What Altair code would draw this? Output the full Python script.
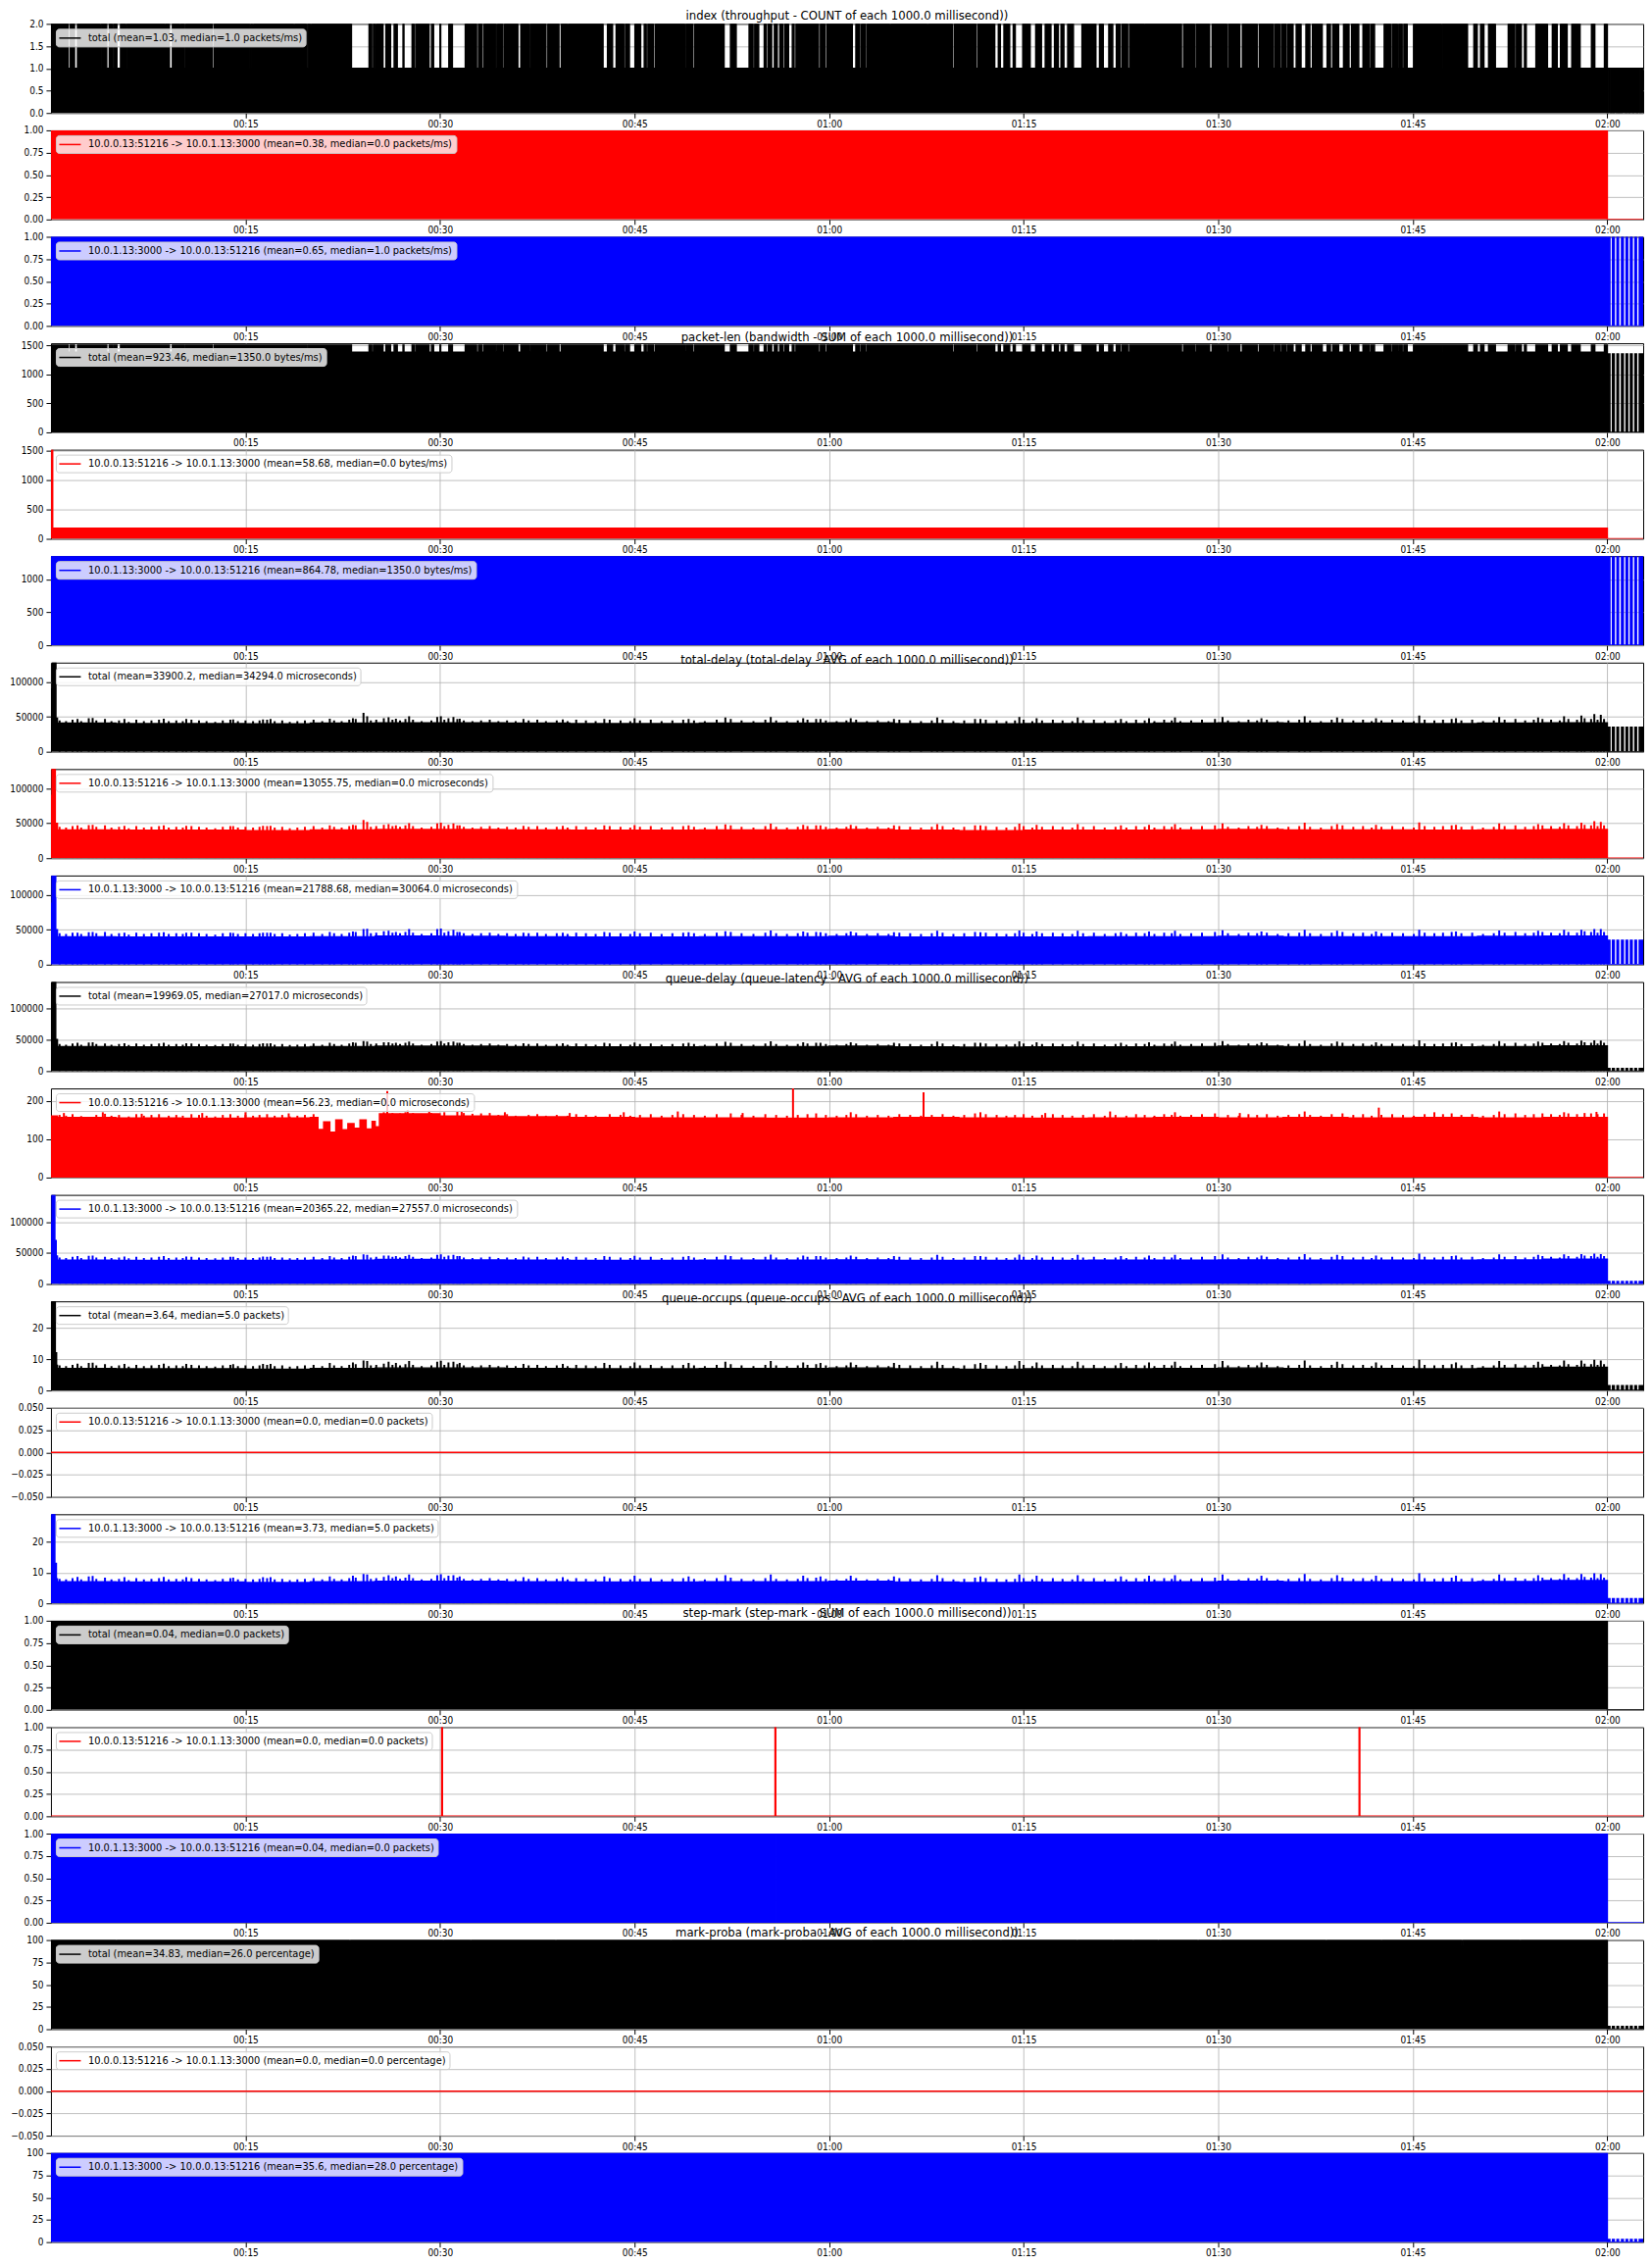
import altair as alt
import pandas as pd

FONT = "DejaVu Sans Condensed, Liberation Sans Narrow, DejaVu Sans"
BLACK, RED, BLUE = "#000000", "#ff0000", "#0000ff"
X_END = 7366
DATA_END = 7200
W, H = 1626, 91

TICKS = [900, 1800, 2700, 3600, 4500, 5400, 6300, 7200]
TICK_LABELS = ["00:15", "00:30", "00:45", "01:00", "01:15", "01:30", "01:45", "02:00"]

TITLES = [
    "index (throughput - COUNT of each 1000.0 millisecond))",
    "packet-len (bandwidth - SUM of each 1000.0 millisecond))",
    "total-delay (total-delay - AVG of each 1000.0 millisecond))",
    "queue-delay (queue-latency - AVG of each 1000.0 millisecond))",
    "queue-occups (queue-occups - AVG of each 1000.0 millisecond))",
    "step-mark (step-mark - SUM of each 1000.0 millisecond))",
    "mark-proba (mark-proba - AVG of each 1000.0 millisecond))",
]
F1 = "10.0.0.13:51216 -> 10.0.1.13:3000"
F2 = "10.0.1.13:3000 -> 10.0.0.13:51216"
LABELS = [
    "total (mean=1.03, median=1.0 packets/ms)",
    F1 + " (mean=0.38, median=0.0 packets/ms)",
    F2 + " (mean=0.65, median=1.0 packets/ms)",
    "total (mean=923.46, median=1350.0 bytes/ms)",
    F1 + " (mean=58.68, median=0.0 bytes/ms)",
    F2 + " (mean=864.78, median=1350.0 bytes/ms)",
    "total (mean=33900.2, median=34294.0 microseconds)",
    F1 + " (mean=13055.75, median=0.0 microseconds)",
    F2 + " (mean=21788.68, median=30064.0 microseconds)",
    "total (mean=19969.05, median=27017.0 microseconds)",
    F1 + " (mean=56.23, median=0.0 microseconds)",
    F2 + " (mean=20365.22, median=27557.0 microseconds)",
    "total (mean=3.64, median=5.0 packets)",
    F1 + " (mean=0.0, median=0.0 packets)",
    F2 + " (mean=3.73, median=5.0 packets)",
    "total (mean=0.04, median=0.0 packets)",
    F1 + " (mean=0.0, median=0.0 packets)",
    F2 + " (mean=0.04, median=0.0 packets)",
    "total (mean=34.83, median=26.0 percentage)",
    F1 + " (mean=0.0, median=0.0 percentage)",
    F2 + " (mean=35.6, median=28.0 percentage)",
]

# seconds where the total throughput drops from 2 to 1 packet/ms
TOTAL_GAPS = [(80, 90), (109, 123), (227, 232), (258, 270), (284, 291), (305, 322), (345, 350), (527, 530),
              (548, 562), (596, 600), (617, 624), (747, 756), (920, 926), (933, 938), (1123, 1128), (1182, 1189),
              (1201, 1206), (1390, 1472), (1484, 1492), (1501, 1506), (1536, 1550), (1571, 1588), (1602, 1629),
              (1633, 1671), (1680, 1688), (1749, 1761), (1770, 1800), (1803, 1841), (1857, 1917), (1969, 1978),
              (1995, 2004), (2059, 2066), (2091, 2099), (2160, 2174), (2212, 2219), (2290, 2299), (2350, 2361),
              (2389, 2394), (2554, 2575), (2598, 2615), (2650, 2658), (2676, 2702), (2728, 2745), (2754, 2762),
              (2788, 2797), (2932, 2939), (2970, 2979), (3114, 3144), (3170, 3230), (3248, 3256), (3274, 3300),
              (3308, 3317), (3334, 3347), (3360, 3372), (3386, 3395), (3412, 3430), (3438, 3447), (3551, 3560),
              (3580, 3589), (3707, 3724), (3742, 3750), (3768, 3776), (3880, 3886), (4054, 4059), (4170, 4179),
              (4279, 4288), (4366, 4383), (4392, 4409), (4435, 4452), (4461, 4496), (4530, 4556), (4582, 4600),
              (4626, 4643), (4660, 4673), (4686, 4704), (4730, 4770), (4834, 4851), (4868, 4894), (4912, 4929),
              (4946, 4955), (4981, 4990), (5059, 5062), (5230, 5240), (5290, 5298), (5360, 5372), (5440, 5448),
              (5500, 5512), (5580, 5590), (5655, 5663), (5685, 5693), (5715, 5723), (5746, 5761), (5783, 5806),
              (5824, 5836), (5881, 5904), (5919, 5930), (5957, 5980), (6005, 6017), (6050, 6070), (6100, 6108),
              (6123, 6168), (6198, 6206), (6229, 6236), (6251, 6259), (6274, 6304), (6432, 6437), (6553, 6583),
              (6598, 6614), (6629, 6651), (6682, 6742), (6772, 6780), (6802, 6817), (6825, 6870), (6923, 6946),
              (6968, 6984), (7014, 7036), (7074, 7127), (7142, 7187)]
# intervals after 02:00 with activity
POST_ON = [(7204, 7212), (7224, 7232), (7245, 7252), (7266, 7274), (7287, 7294), (7307, 7315),
           (7328, 7335), (7348, 7356), (7359, 7366)]
POST_DENSE = [(7203, 7216), (7219, 7227), (7231, 7244), (7248, 7255), (7259, 7264), (7268, 7285),
              (7289, 7300), (7304, 7318), (7322, 7336), (7340, 7352), (7356, 7366)]
STEP_MARK_RED_T = [1808, 3350, 6052]
MP_NOTCH_T = [300, 1380, 1813, 1940, 2333, 2866, 3467, 3791, 3941, 4010, 4253, 4392, 4745, 4912, 5004,
              5120, 5304, 5408, 5897, 6153, 6526, 6795]
MP_NOTCH_V = [97, 98, 98, 96, 97, 98, 97, 97, 98, 97, 97, 90, 97, 98, 97, 98, 97, 97, 97, 98, 94, 97]

# 5-minute baselines for the noisy series
TD_TOTAL_BASE = [41000, 40500, 40500, 40000, 41000, 41500, 41500, 41000, 40500, 40500, 41000, 41000,
                 41500, 40500, 40000, 40500, 40500, 41000, 41500, 41000, 41000, 40500, 41000, 41500]
TD_RED_BASE = [40500, 40000, 40000, 39500, 40500, 41000, 41000, 40500, 40000, 40000, 40500, 40500,
               41000, 40000, 39500, 40000, 40000, 40500, 41000, 40500, 40500, 40000, 40500, 41000]
TD_BLUE_BASE = [40000, 39500, 39500, 39500, 40000, 41000, 40500, 40000, 39500, 39500, 40000, 40000,
                40500, 39500, 39500, 39500, 40000, 40000, 40500, 40000, 40000, 40000, 40500, 41000]
QD_TOTAL_BASE = [39000, 38500, 38500, 38000, 39000, 39500, 39500, 39000, 38500, 38500, 39000, 39000,
                 39500, 38500, 38000, 38500, 38500, 39000, 39500, 39000, 39000, 38500, 39000, 40000]
QD_BLUE_BASE = [38500, 38000, 38000, 38000, 38500, 39500, 39000, 38500, 38000, 38000, 38500, 38500,
                39000, 38000, 38000, 38000, 38500, 38500, 39000, 38500, 38500, 38500, 39000, 40000]
QD_RED_BASE = [156, 155, 154, 155, 156, 132, 160, 158, 156, 155, 155, 154,
               155, 156, 155, 154, 155, 156, 155, 156, 155, 156, 155, 156]
QO_TOTAL_BASE = [7.0, 6.9, 6.9, 6.8, 7.0, 7.2, 7.2, 7.0, 6.9, 6.9, 7.0, 7.0,
                 7.2, 6.9, 6.8, 6.9, 6.9, 7.0, 7.2, 7.0, 7.0, 6.9, 7.1, 7.4]
QO_BLUE_BASE = [7.0, 6.9, 6.9, 6.8, 7.0, 7.2, 7.2, 7.0, 6.9, 6.9, 7.0, 7.0,
                7.2, 6.9, 6.8, 6.9, 6.9, 7.0, 7.2, 7.0, 7.0, 6.9, 7.1, 7.4]

# larger spikes (seconds, value)
SPIKE_T = [123, 175, 193, 340, 522, 626, 843, 981, 1016, 1290, 1397, 1446, 1463, 1562, 1596, 1657, 1787,
           1804, 1839, 1862, 1891, 2186, 2368, 2560, 2700, 2950, 3120, 3330, 3480, 3560, 3700, 3900, 4100,
           4300, 4480, 4560, 4750, 4950, 5080, 5200, 5420, 5600, 5800, 5950, 6130, 6330, 6500, 6700, 6880,
           7000, 7080, 7140, 7170]
TD_TOTAL_SPIKE = [47000, 48000, 48500, 47000, 47500, 47000, 46500, 46500, 47000, 47500, 48000, 56000, 51000,
                  49500, 47500, 51000, 50000, 51000, 48000, 50000, 47500, 47000, 46500, 47000, 48000, 47000,
                  49000, 50000, 48000, 47000, 48000, 47000, 49000, 47000, 50000, 48000, 49000, 47000, 48000,
                  49000, 50000, 48000, 51000, 49000, 48000, 52000, 48000, 50000, 49000, 51000, 52000, 54000, 53000]
TD_RED_SPIKE = [47000, 47500, 48000, 46500, 47000, 46500, 46000, 46500, 46500, 47000, 48000, 55000, 52000,
                49000, 47000, 50500, 50000, 51000, 48000, 50000, 47000, 46500, 46500, 47000, 47500, 47000,
                48500, 49500, 48000, 47000, 48000, 47000, 49000, 47000, 49500, 48000, 49000, 47000, 48000,
                49000, 50000, 48000, 51000, 49000, 48000, 51500, 48000, 50000, 49000, 50500, 51000, 53000, 52000]
TD_BLUE_SPIKE = [46000, 46500, 47000, 46000, 46500, 46000, 45500, 46000, 46000, 47000, 47500, 51000, 51500,
                 48500, 47000, 51000, 51000, 52000, 48000, 50000, 47000, 46000, 46000, 47000, 47500, 46500,
                 48000, 49000, 47500, 46500, 47500, 46500, 48500, 46500, 49000, 47500, 48500, 46500, 47500,
                 48500, 49500, 47500, 50000, 48500, 47500, 50000, 47500, 49000, 48500, 50000, 50000, 51000, 51000]
QD_SPIKE = [45000, 45500, 46000, 44500, 45000, 44500, 44000, 44500, 44500, 45000, 46000, 48000, 47000,
            46000, 45000, 47000, 47000, 48000, 46000, 47000, 45000, 44500, 44500, 45000, 45500, 45000,
            46500, 47500, 46000, 45000, 46000, 45000, 47000, 45000, 47500, 46000, 47000, 45000, 46000,
            47000, 48000, 46000, 48500, 47000, 46000, 49000, 46000, 48000, 47000, 48000, 48500, 49000, 48500]
QO_SPIKE = [8.6, 8.8, 8.9, 8.5, 8.6, 8.5, 8.4, 8.5, 8.5, 8.8, 9.0, 9.6, 9.4, 9.2, 8.8, 9.4, 9.2, 9.5,
            9.0, 9.2, 8.8, 8.5, 8.5, 8.8, 9.0, 8.8, 9.2, 9.4, 9.0, 8.8, 9.0, 8.8, 9.2, 8.8, 9.4, 9.0,
            9.2, 8.8, 9.0, 9.2, 9.4, 9.0, 9.6, 9.2, 9.0, 9.8, 9.0, 9.4, 9.2, 9.6, 9.6, 9.8, 9.6]

# small serrations along the top edge (seconds, value)
MINOR_T = [40, 70, 100, 140, 210, 250, 280, 315, 360, 395, 430, 465, 500, 545, 580, 610, 650, 685, 720, 760,
           795, 830, 865, 900, 935, 965, 1000, 1035, 1070, 1105, 1140, 1175, 1215, 1255, 1310, 1345, 1380, 1410,
           1480, 1505, 1540, 1580, 1615, 1640, 1675, 1715, 1760, 1820, 1880, 1910, 1950, 1990, 2030, 2070, 2110,
           2150, 2210, 2250, 2290, 2340, 2390, 2430, 2475, 2520, 2585, 2635, 2680, 2725, 2775, 2825, 2875, 2925,
           2975, 3025, 3080, 3145, 3195, 3250, 3305, 3355, 3405, 3455, 3500, 3540, 3585, 3635, 3680, 3725, 3775,
           3825, 3875, 3925, 3975, 4025, 4075, 4125, 4175, 4225, 4275, 4325, 4375, 4420, 4460, 4500, 4540, 4585,
           4635, 4680, 4725, 4775, 4825, 4875, 4925, 4975, 5020, 5060, 5105, 5150, 5185, 5225, 5275, 5325, 5385,
           5445, 5495, 5540, 5580, 5625, 5675, 5725, 5775, 5825, 5875, 5925, 5975, 6025, 6070, 6110, 6155, 6205,
           6255, 6305, 6355, 6400, 6440, 6480, 6525, 6575, 6625, 6675, 6725, 6775, 6820, 6860, 6900, 6940, 6980,
           7020, 7060, 7095, 7125, 7155, 7185]
TD_MINOR = [45000, 44000, 46000, 44000, 45000, 47000, 44000, 45000, 43000, 46000, 44000, 45000, 46000, 44000,
            45000, 44000, 46000, 45000, 44000, 43000, 45000, 46000, 44000, 45000, 44000, 45000, 46000, 44000,
            45000, 43000, 44000, 45000, 46000, 44000, 45000, 44000, 46000, 47000, 45000, 46000, 48000, 46000,
            45000, 47000, 46000, 44000, 45000, 46000, 47000, 45000, 44000, 45000, 46000, 44000, 45000, 44000,
            45000, 46000, 44000, 45000, 44000, 46000, 45000, 44000, 46000, 45000, 44000, 45000, 46000, 44000,
            45000, 46000, 45000, 44000, 46000, 47000, 45000, 44000, 46000, 45000, 44000, 45000, 46000, 47000,
            45000, 44000, 45000, 46000, 44000, 45000, 44000, 46000, 45000, 44000, 45000, 46000, 44000, 45000,
            47000, 46000, 45000, 44000, 45000, 46000, 44000, 45000, 46000, 45000, 44000, 45000, 46000, 44000,
            45000, 44000, 46000, 45000, 44000, 46000, 45000, 44000, 45000, 46000, 47000, 45000, 44000, 46000,
            45000, 46000, 44000, 45000, 46000, 45000, 44000, 46000, 47000, 45000, 46000, 44000, 45000, 46000,
            45000, 44000, 46000, 45000, 46000, 47000, 45000, 46000, 44000, 45000, 46000, 47000, 45000, 46000,
            47000, 46000, 45000, 47000, 46000, 48000, 47000, 46000, 47000, 48000, 47000, 48000, 47000]
QD_MINOR = [43000, 42000, 44000, 42000, 43000, 44000, 42000, 43000, 41500, 44000, 42000, 43000, 44000, 42000,
            43000, 42000, 44000, 43000, 42000, 41500, 43000, 44000, 42000, 43000, 42000, 43000, 44000, 42000,
            43000, 41500, 42000, 43000, 44000, 42000, 43000, 42000, 44000, 45000, 43000, 44000, 46000, 44000,
            43000, 45000, 44000, 42000, 43000, 44000, 45000, 43000, 42000, 43000, 44000, 42000, 43000, 42000,
            43000, 44000, 42000, 43000, 42000, 44000, 43000, 42000, 44000, 43000, 42000, 43000, 44000, 42000,
            43000, 44000, 43000, 42000, 44000, 45000, 43000, 42000, 44000, 43000, 42000, 43000, 44000, 45000,
            43000, 42000, 43000, 44000, 42000, 43000, 42000, 44000, 43000, 42000, 43000, 44000, 42000, 43000,
            45000, 44000, 43000, 42000, 43000, 44000, 42000, 43000, 44000, 43000, 42000, 43000, 44000, 42000,
            43000, 42000, 44000, 43000, 42000, 44000, 43000, 42000, 43000, 44000, 45000, 43000, 42000, 44000,
            43000, 44000, 42000, 43000, 44000, 43000, 42000, 44000, 45000, 43000, 44000, 42000, 43000, 44000,
            43000, 42000, 44000, 43000, 44000, 45000, 43000, 44000, 42000, 43000, 44000, 45000, 43000, 44000,
            45000, 44000, 43000, 45000, 44000, 46000, 45000, 44000, 45000, 46000, 45000, 46000, 45000]
QO_MINOR = [8.0, 7.8, 8.2, 7.8, 8.0, 8.4, 7.8, 8.0, 7.6, 8.2, 7.8, 8.0, 8.2, 7.8, 8.0, 7.8, 8.2, 8.0, 7.8,
            7.6, 8.0, 8.2, 7.8, 8.0, 7.8, 8.0, 8.2, 7.8, 8.0, 7.6, 7.8, 8.0, 8.2, 7.8, 8.0, 7.8, 8.2, 8.4,
            8.0, 8.2, 8.6, 8.2, 8.0, 8.4, 8.2, 7.8, 8.0, 8.2, 8.4, 8.0, 7.8, 8.0, 8.2, 7.8, 8.0, 7.8, 8.0,
            8.2, 7.8, 8.0, 7.8, 8.2, 8.0, 7.8, 8.2, 8.0, 7.8, 8.0, 8.2, 7.8, 8.0, 8.2, 8.0, 7.8, 8.2, 8.4,
            8.0, 7.8, 8.2, 8.0, 7.8, 8.0, 8.2, 8.4, 8.0, 7.8, 8.0, 8.2, 7.8, 8.0, 7.8, 8.2, 8.0, 7.8, 8.0,
            8.2, 7.8, 8.0, 8.4, 8.2, 8.0, 7.8, 8.0, 8.2, 7.8, 8.0, 8.2, 8.0, 7.8, 8.0, 8.2, 7.8, 8.0, 7.8,
            8.2, 8.0, 7.8, 8.2, 8.0, 7.8, 8.0, 8.2, 8.4, 8.0, 7.8, 8.2, 8.0, 8.2, 7.8, 8.0, 8.2, 8.0, 7.8,
            8.2, 8.4, 8.0, 8.2, 7.8, 8.0, 8.2, 8.0, 7.8, 8.2, 8.0, 8.2, 8.4, 8.0, 8.2, 7.8, 8.0, 8.2, 8.4,
            8.0, 8.2, 8.4, 8.2, 8.0, 8.4, 8.2, 8.6, 8.4, 8.2, 8.4, 8.6, 8.4, 8.6, 8.4]
QD_RED_SPIKE_T = [60, 240, 420, 700, 900, 1100, 1556, 1650, 1750, 1900, 2100, 2400, 2650, 2900, 3200, 3433,
                  3700, 4037, 4300, 4600, 4900, 5200, 5500, 5800, 6143, 6400, 6700, 7000, 7150]
QD_RED_SPIKE_V = [168, 170, 166, 168, 170, 167, 225, 176, 174, 172, 170, 168, 170, 172, 168, 232,
                  170, 222, 170, 168, 172, 170, 168, 172, 182, 170, 172, 170, 171]
QD_RED_MINOR = [163, 161, 165, 160, 163, 166, 161, 163, 159, 165, 161, 163, 165, 161, 163, 161, 165, 163, 161,
                159, 163, 165, 161, 163, 161, 163, 165, 161, 163, 159, 161, 163, 165, 161, 163, 161, 165, 167,
                163, 165, 170, 168, 167, 170, 168, 166, 168, 170, 172, 168, 166, 167, 168, 163, 165, 161, 163,
                165, 161, 163, 161, 165, 163, 161, 165, 163, 161, 163, 165, 161, 163, 165, 163, 161, 165, 167,
                163, 161, 165, 163, 161, 163, 165, 167, 163, 161, 163, 165, 161, 163, 161, 165, 163, 161, 163,
                165, 161, 163, 167, 165, 163, 161, 163, 165, 161, 163, 165, 163, 161, 163, 165, 161, 163, 161,
                165, 163, 161, 165, 163, 161, 163, 165, 167, 163, 161, 165, 163, 165, 161, 163, 165, 163, 161,
                165, 167, 163, 165, 161, 163, 165, 163, 161, 165, 163, 165, 167, 163, 165, 161, 163, 165, 167,
                163, 165, 167, 165, 163, 167, 165, 168, 167, 165, 167, 168, 167, 168, 167]
QD_RED_DIP = [(1235, 125), (1262, 145), (1290, 118), (1318, 150), (1346, 124), (1374, 140), (1402, 128),
              (1430, 150), (1458, 126), (1486, 146), (1520, 166)]

# initial transients (seconds, value)
TD_TOTAL_HEAD = [(0, 90000), (8, 128000), (23, 48000)]
TD_RED_HEAD = [(0, 90000), (5, 128000), (20, 50000)]
TD_BLUE_HEAD = [(0, 88000), (5, 128000), (22, 50000)]
QD_TOTAL_HEAD = [(0, 100000), (5, 142000), (22, 50000)]
QD_BLUE_HEAD = [(0, 100000), (5, 144000), (18, 70000), (24, 45000)]
QD_RED_HEAD = [(0, 160)]
QO_TOTAL_HEAD = [(0, 20), (4, 28.5), (20, 12), (26, 8)]
QO_BLUE_HEAD = [(0, 22), (4, 29), (18, 13), (25, 8)]
PL_RED_HEAD = [(0, 1522), (8, 180)]


def tail(post, on=POST_ON):
    pts = [(DATA_END, 0.0)]
    if post:
        for a, b in on:
            pts += [(a, post), (b, 0.0)]
    pts.append((X_END, 0.0))
    return pts


def binary(hi, lo, gaps, post=0.0, on=POST_ON):
    pts = [(0, hi)]
    for a, b in gaps:
        pts += [(a, lo), (b, hi)]
    return pts + tail(post, on)


def noisy(head, base, post=0.0, extra=None):
    pts = list(head)
    pts.append((30, base[0]))
    pts += [(300 * i, v) for i, v in enumerate(base) if i > 0]
    if extra:
        pts = sorted(pts + list(extra), key=lambda p: p[0])
    return pts + tail(post)


def spikes(*pairs):
    out = []
    for ts, vs in pairs:
        out += list(zip(ts, vs))
    return out


LABEL_EXPR = "[" + ",".join("'%s'" % s for s in TICK_LABELS) + "][round(datum.value / 900) - 1]"


def x_enc():
    return alt.X("t:Q", scale=alt.Scale(domain=[0, X_END], nice=False, zero=False),
                 axis=alt.Axis(values=TICKS, labelExpr=LABEL_EXPR, title=None, grid=True,
                               labelPadding=1, labelFlush=False))


def y_enc(dom, ticks, fmt):
    return alt.Y("v:Q", scale=alt.Scale(domain=dom, nice=False, zero=False),
                 axis=alt.Axis(values=ticks, format=fmt, title=None, grid=True, labelPadding=3))


def panel(pts, color, label, dom, ticks, fmt, title=None, spk=None, fill=True):
    df = pd.DataFrame(pts, columns=["t", "v"])
    df["s"] = label
    base = alt.Chart(df)
    x, y = x_enc(), y_enc(dom, ticks, fmt)
    legend = alt.Legend(orient="top-left", offset=5, title=None, fillColor="rgba(255,255,255,0.8)",
                        strokeColor="#cccccc", cornerRadius=3, padding=3, labelFont=FONT,
                        labelFontSize=11, labelColor="black", labelLimit=0,
                        symbolType="M-2,0H2", symbolSize=121, symbolStrokeWidth=1.5,
                        symbolOffset=5, labelOffset=12, symbolStrokeColor=color)
    col = alt.Color("s:N", scale=alt.Scale(domain=[label], range=[color]), legend=legend)
    layers = []
    if fill:
        layers.append(base.mark_area(interpolate="step-after", clip=True, color=color).encode(x=x, y=y))
    if spk:
        sdf = pd.DataFrame(spk, columns=["t", "v"])
        layers.append(alt.Chart(sdf).mark_rule(color=color, strokeWidth=2, clip=True).encode(
            x=x, y=y, y2=alt.datum(0)))
    layers.append(base.mark_line(interpolate="step-after", clip=True, strokeWidth=1.5).encode(
        x=x, y=y, color=col))
    ch = alt.layer(*layers).properties(width=W, height=H)
    if title:
        ch = ch.properties(title=alt.TitleParams(title, font=FONT, fontSize=13, fontWeight="normal",
                                                 color="black", offset=-4, anchor="middle", frame="group"))
    return ch


P_IDX = dict(dom=[0, 2], ticks=[0, 0.5, 1, 1.5, 2], fmt=".1f")
P_UNIT = dict(dom=[0, 1], ticks=[0, 0.25, 0.5, 0.75, 1], fmt=".2f")
P_ZERO = dict(dom=[-0.05, 0.05], ticks=[-0.05, -0.025, 0, 0.025, 0.05], fmt=".3f")
P_PCT = dict(dom=[0, 100], ticks=[0, 25, 50, 75, 100], fmt="d")
P_TD = dict(dom=[0, 128000], ticks=[0, 50000, 100000], fmt="d")

notch_pts = [(0, 100)]
for t, v in zip(MP_NOTCH_T, MP_NOTCH_V):
    notch_pts += [(t, v), (t + 6, 100)]

qd_red_minor = [(t, v) for t, v in zip(MINOR_T, QD_RED_MINOR) if not 1230 < t < 1525]

panels = [
    panel(binary(2, 1, TOTAL_GAPS, post=1, on=POST_DENSE), BLACK, LABELS[0], title=TITLES[0], **P_IDX),
    panel(binary(1, 1, []), RED, LABELS[1], **P_UNIT),
    panel(binary(1, 1, [], post=1), BLUE, LABELS[2], **P_UNIT),
    panel(binary(1500, 1380, TOTAL_GAPS, post=1350), BLACK, LABELS[3], dom=[0, 1534],
          ticks=[0, 500, 1000, 1500], fmt="d", title=TITLES[1]),
    panel(PL_RED_HEAD + tail(0), RED, LABELS[4], dom=[0, 1522], ticks=[0, 500, 1000, 1500], fmt="d"),
    panel(binary(1350, 1350, [], post=1350), BLUE, LABELS[5], dom=[0, 1350], ticks=[0, 500, 1000], fmt="d"),
    panel(noisy(TD_TOTAL_HEAD, TD_TOTAL_BASE, post=35000), BLACK, LABELS[6], title=TITLES[2],
          spk=spikes((MINOR_T, TD_MINOR), (SPIKE_T, TD_TOTAL_SPIKE)), **P_TD),
    panel(noisy(TD_RED_HEAD, TD_RED_BASE), RED, LABELS[7],
          spk=spikes((MINOR_T, TD_MINOR), (SPIKE_T, TD_RED_SPIKE)), **P_TD),
    panel(noisy(TD_BLUE_HEAD, TD_BLUE_BASE, post=35000), BLUE, LABELS[8],
          spk=spikes((MINOR_T, TD_MINOR), (SPIKE_T, TD_BLUE_SPIKE)), **P_TD),
    panel(noisy(QD_TOTAL_HEAD, QD_TOTAL_BASE, post=4000), BLACK, LABELS[9], dom=[0, 142000],
          ticks=[0, 50000, 100000], fmt="d", title=TITLES[3],
          spk=spikes((MINOR_T, QD_MINOR), (SPIKE_T, QD_SPIKE))),
    panel(noisy(QD_RED_HEAD, QD_RED_BASE, extra=QD_RED_DIP), RED, LABELS[10], dom=[0, 232],
          ticks=[0, 100, 200], fmt="d",
          spk=qd_red_minor + list(zip(QD_RED_SPIKE_T, QD_RED_SPIKE_V))),
    panel(noisy(QD_BLUE_HEAD, QD_BLUE_BASE, post=4000), BLUE, LABELS[11], dom=[0, 144000],
          ticks=[0, 50000, 100000], fmt="d", spk=spikes((MINOR_T, QD_MINOR), (SPIKE_T, QD_SPIKE))),
    panel(noisy(QO_TOTAL_HEAD, QO_TOTAL_BASE, post=1.5), BLACK, LABELS[12], dom=[0, 28.5],
          ticks=[0, 10, 20], fmt="d", title=TITLES[4], spk=spikes((MINOR_T, QO_MINOR), (SPIKE_T, QO_SPIKE))),
    panel([(0, 0), (X_END, 0)], RED, LABELS[13], fill=False, **P_ZERO),
    panel(noisy(QO_BLUE_HEAD, QO_BLUE_BASE, post=1.5), BLUE, LABELS[14], dom=[0, 29],
          ticks=[0, 10, 20], fmt="d", spk=spikes((MINOR_T, QO_MINOR), (SPIKE_T, QO_SPIKE))),
    panel(binary(1, 1, []), BLACK, LABELS[15], title=TITLES[5], **P_UNIT),
    panel(binary(0, 1, [(t, t + 3) for t in STEP_MARK_RED_T]), RED, LABELS[16], **P_UNIT),
    panel(binary(1, 0, [(t, t + 3) for t in STEP_MARK_RED_T[:2]]), BLUE, LABELS[17], **P_UNIT),
    panel(notch_pts + tail(3), BLACK, LABELS[18], title=TITLES[6], **P_PCT),
    panel([(0, 0), (X_END, 0)], RED, LABELS[19], fill=False, **P_ZERO),
    panel(binary(100, 100, [], post=3), BLUE, LABELS[20], **P_PCT),
]

chart = alt.vconcat(*panels, spacing=17.7, bounds="flush").resolve_scale(
    color="independent", y="independent", x="independent"
).configure_view(stroke="black", strokeWidth=1).configure_axis(
    labelFont=FONT, labelFontSize=10, labelColor="black", tickColor="black", tickSize=5,
    gridColor="#b0b0b0", gridWidth=0.8, domain=False
).properties(padding={"left": 1, "top": 0, "right": 0, "bottom": 0}, background="white")

chart.save("out.html", embed_options={"renderer": "svg", "actions": False})
